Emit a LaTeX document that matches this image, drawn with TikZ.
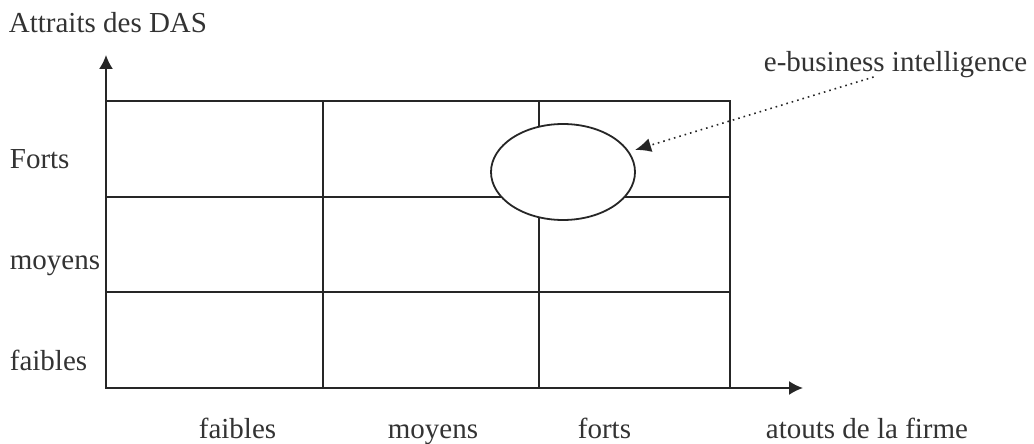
\documentclass[tikz,border=0pt]{standalone}
\usepackage{fontspec}
\setmainfont{Liberation Serif}
\usetikzlibrary{shapes.geometric,arrows.meta}

\begin{document}
\begin{tikzpicture}[x=0.5pt,y=-0.5pt,line width=0.9pt,
  lbl/.style={anchor=base west, inner sep=0pt, font=\fontsize{14.5}{16}\selectfont, text=black!80},
  axis/.style={draw=black!85, -{Latex[length=7pt,width=7pt]}},
  pointer/.style={draw=black!85, line width=0.8pt, dotted, -{Latex[length=8pt,width=7pt]}, shorten >=3pt}]
\useasboundingbox (0,0) rectangle (1034,444);

% grid corners
\coordinate (o) at (106,388);
\coordinate (tr) at (730,101);
\coordinate (ytip) at (106,55);
\coordinate (xtip) at (803,388);

% matrix
\draw[black!85] (o) rectangle (tr);
\draw[black!85] (323,101) -- (323,388);
\draw[black!85] (539,101) -- (539,388);
\draw[black!85] (106,197) -- (730,197);
\draw[black!85] (106,292) -- (730,292);

% axes
\draw[axis] (o) -- (ytip);
\draw[axis] (o) -- (xtip);

% ellipse and pointer
\node[ellipse, draw=black!85, fill=white, minimum width=72pt, minimum height=48pt, inner sep=0pt] (ell) at (563,172) {};
\node[lbl] (biz) at (763,72) {e-business intelligence};
\draw[pointer] ([xshift=-11pt,yshift=-2.5pt]biz.base) -- (ell);

% axis labels
\node[lbl] (ytitle) at (8,33) {Attraits des DAS};
\node[lbl] (yforts) at (9,169) {Forts};
\node[lbl] (ymoyens) at (9,270) {moyens};
\node[lbl] (yfaibles) at (9,370) {faibles};
\node[lbl] (xfaibles) at (198,438) {faibles};
\node[lbl] (xmoyens) at (387,438) {moyens};
\node[lbl] (xforts) at (577,438) {forts};
\node[lbl] (xtitle) at (765,438) {atouts de la firme};
\end{tikzpicture}
\end{document}
